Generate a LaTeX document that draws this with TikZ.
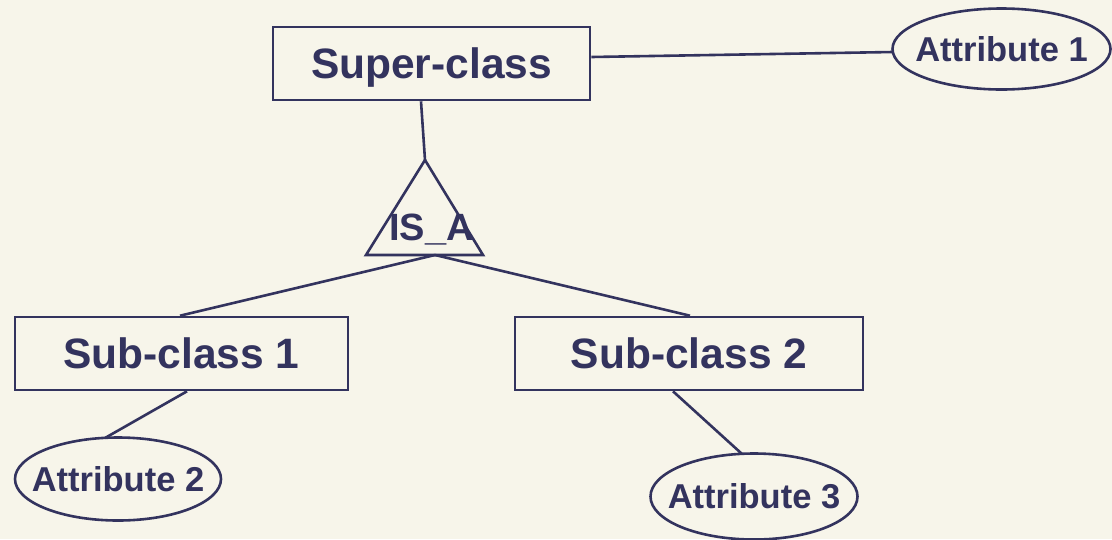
\documentclass[tikz,border=0pt]{standalone}
\usepackage{fontspec}
\setmainfont{Liberation Sans}
\definecolor{bg}{HTML}{F7F5EA}
\definecolor{ink}{HTML}{33335E}
\tikzset{
  base/.style={draw=ink, line width=2.6pt, text=ink, inner sep=0pt, font=\bfseries},
  classbox/.style={base, rectangle, font=\fontsize{42.5}{42.5}\selectfont\bfseries, text height=30pt, text depth=0pt},
  attrtext/.style={text=ink, inner sep=0pt, font=\fontsize{34.5}{34.5}\selectfont\bfseries, text height=24.5pt, text depth=0pt},
  conn/.style={draw=ink, line width=2.6pt},
}
\begin{document}
\begin{tikzpicture}[x=1pt,y=-1pt]
\fill[bg] (0,0) rectangle (1112,539);
\useasboundingbox (0,0) rectangle (1112,539);
\node[classbox, minimum width=317pt, minimum height=73pt] (sup) at (431.5,63.5) {Super-class};
\node[classbox, minimum width=333pt, minimum height=73pt] (sub1) at (181.5,353.5) {Sub-class 1};
\node[classbox, minimum width=348pt, minimum height=73pt] (sub2) at (689,353.5) {Sub-class 2};
\node[attrtext] (a1) at (1001.5,49) {Attribute 1};
\node[attrtext] (a2) at (118,479) {Attribute 2};
\node[attrtext] (a3) at (754,496.5) {Attribute 3};
\draw[conn] (a1.center) ellipse [x radius=109pt, y radius=40.5pt];
\draw[conn] (a2.center) ellipse [x radius=103pt, y radius=41.5pt];
\draw[conn] (a3.center) ellipse [x radius=103.5pt, y radius=43pt];
% IS_A triangle
\coordinate (apex) at (425,160);
\coordinate (bl) at (366,255);
\coordinate (br) at (483,255);
\coordinate (bm) at (435,255);
\draw[conn, line join=miter] (apex) -- (bl) -- (br) -- cycle;
\node[text=ink, font=\fontsize{38}{38}\selectfont\bfseries, inner sep=0pt, anchor=base] (isa) at (431.5,240) {IS\_A};
% connectors
\draw[conn] ([xshift=-10.5pt]sup.south) -- (apex);
\draw[conn] (bm) -- ([xshift=-1.5pt]sub1.north);
\draw[conn] (bm) -- ([xshift=1pt]sub2.north);
\draw[conn] ([yshift=6.5pt]sup.east) -- ([xshift=-108.5pt,yshift=-3pt]a1.center);
\draw[conn] ([xshift=5.5pt]sub1.south) -- ([xshift=-13pt,yshift=41pt]a2.center);
\draw[conn] ([xshift=-16pt]sub2.south) -- ([xshift=-12.5pt,yshift=43pt]a3.center);
\end{tikzpicture}
\end{document}
